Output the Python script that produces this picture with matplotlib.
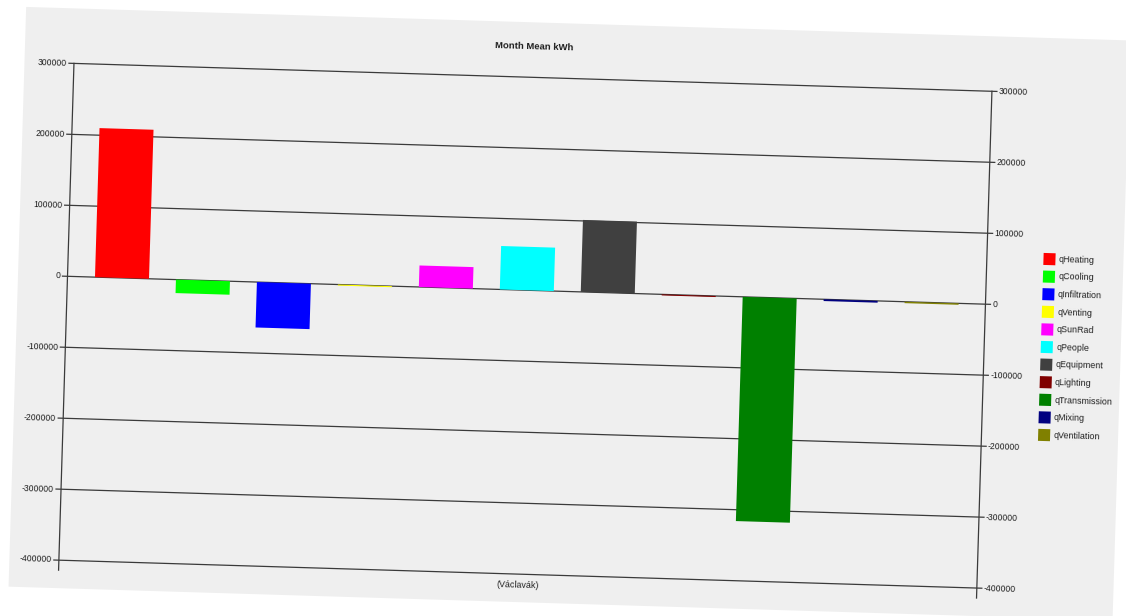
import numpy as np
import matplotlib
matplotlib.use('Agg')
import matplotlib.pyplot as plt
from matplotlib.patches import Rectangle
from matplotlib.transforms import Affine2D

# data (one category, eleven series)
series = ['qHeating', 'qCooling', 'qInfiltration', 'qVenting', 'qSunRad', 'qPeople',
          'qEquipment', 'qLighting', 'qTransmission', 'qMixing', 'qVentilation']
values = [210000, -19000, -64000, -1500, 30300, 61200,
          101400, -1500, -316000, -2500, -2000]
colors = ['#ff0000', '#00ff00', '#0000ff', '#ffff00', '#ff00ff', '#00ffff',
          '#404040', '#800000', '#008000', '#000080', '#808000']
category = '(Václavák)'
title = 'Month Mean kWh'
yticks = np.arange(-400000, 300001, 100000)

plt.rcParams['font.family'] = ['Liberation Sans', 'DejaVu Sans']
txt_color = '#1e1e1e'
line_color = '#3a3a3a'

fig = plt.figure(figsize=(11.26, 6.16), dpi=100)
ax = fig.add_axes([0, 0, 1, 1])
ax.set_xlim(0, 1126)
ax.set_ylim(616, 0)
ax.axis('off')

# the screenshot is turned a little clockwise -> work in a rotated pixel frame
angle = 1.74
origin = (67.5, 276.3)          # left axis at value 0
frame = Affine2D().rotate_deg(angle).translate(*origin) + ax.transData

# chart scales: x = series slot, y = kWh
xmin, xmax = -0.673, 10.665
sx = 81.0                       # pixels per slot
sy = 0.00071                    # pixels per kWh
data = Affine2D().translate(-xmin, 0).scale(sx, -sy) + frame

# grey panel
ax.add_patch(Rectangle((-49.5, -268), 1104.5, 580, transform=frame,
                       facecolor='#efefef', edgecolor='none', zorder=0))

# gridlines + ticks on both sides
tick = 5 / sx
for v in yticks:
    ax.plot([xmin - tick, xmax + tick], [v, v], transform=data,
            color=line_color, lw=0.9, zorder=1)
    ax.text(xmin - 7 / sx, v, f'{v}', transform=data, rotation=-angle,
            rotation_mode='anchor', ha='right', va='center',
            fontsize=6.2, color=txt_color)
    ax.text(xmax + 7 / sx, v, f'{v}', transform=data, rotation=-angle,
            rotation_mode='anchor', ha='left', va='center',
            fontsize=6.2, color=txt_color)

# value axes, running a bit below the category axis
bottom = yticks[0] - 10 / sy
for x in (xmin, xmax):
    ax.plot([x, x], [yticks[-1], bottom], transform=data,
            color=line_color, lw=0.9, zorder=1)

# bars
ax.bar(np.arange(len(series)), values, width=0.667, color=colors,
       transform=data, zorder=3)

# title and category label
ax.text((xmin + xmax) / 2, yticks[-1] + 31 / sy, title, transform=data,
        rotation=-angle, rotation_mode='anchor', ha='center', va='center',
        fontsize=6.8, fontweight='bold', color=txt_color)
ax.text((xmin + xmax) / 2, yticks[0] - 11 / sy, category, transform=data,
        rotation=-angle, rotation_mode='anchor', ha='center', va='center',
        fontsize=6.4, color=txt_color)

# legend, drawn by hand so it turns with the rest
for i, (name, c) in enumerate(zip(series, colors)):
    y = -47 + i * 17.6
    ax.add_patch(Rectangle((975, y - 6), 12, 12, transform=frame,
                           facecolor=c, edgecolor='none', zorder=3))
    ax.text(990.5, y, name, transform=frame, rotation=-angle,
            rotation_mode='anchor', ha='left', va='center',
            fontsize=6.4, color=txt_color)

fig.savefig('out.png', dpi=100)
